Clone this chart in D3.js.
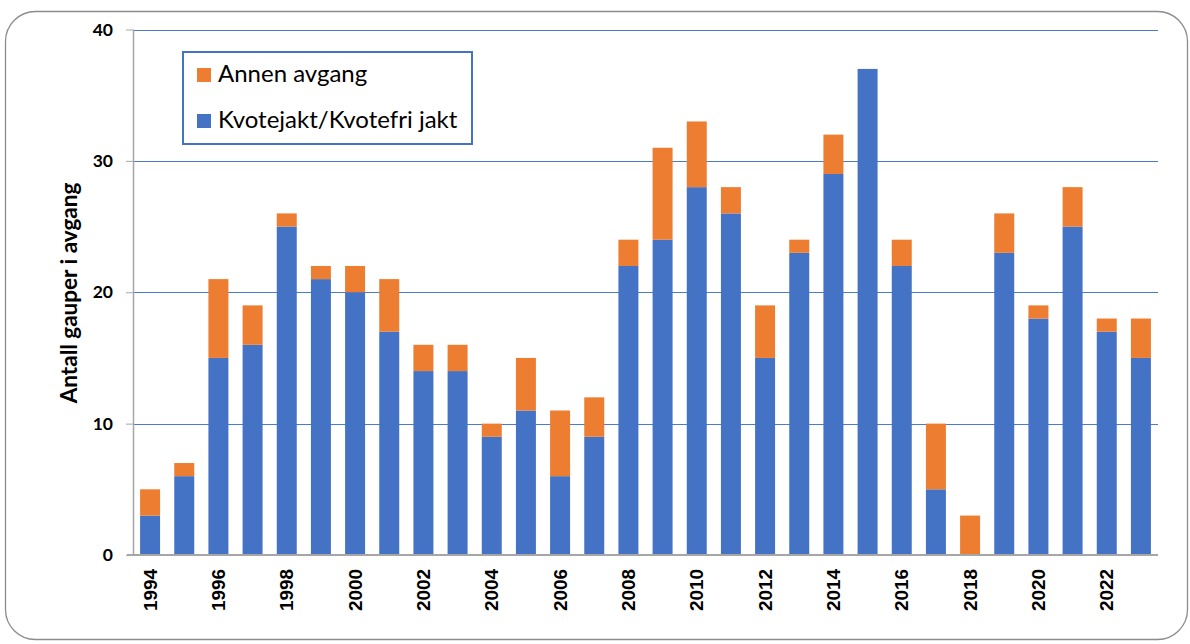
<!DOCTYPE html>
<html>
<head>
<meta charset="utf-8">
<script src="https://cdn.jsdelivr.net/npm/d3@7"></script>
<style>
  html, body { margin: 0; padding: 0; background: #fff; }
  svg { display: block; }
</style>
</head>
<body>
<svg id="chart"></svg>
<script>
// ── DATA ─────────────────────────────────────────────────────────────────
const years = d3.range(1994, 2024).map(String);
const kvotejakt = [3, 6, 15, 16, 25, 21, 20, 17, 14, 14, 9, 11, 6, 9, 22, 24, 28, 26, 15, 23, 29, 37, 22, 5, 0, 23, 18, 25, 17, 15];
const annen     = [2, 1, 6, 3, 1, 1, 2, 4, 2, 2, 1, 4, 5, 3, 2, 7, 5, 2, 4, 1, 3, 0, 2, 5, 3, 3, 1, 3, 1, 3];
const yTicks = [0, 10, 20, 30, 40];
const seriesNames = ["Annen avgang", "Kvotejakt/Kvotefri jakt"];

const BLUE = "#4472C4", ORANGE = "#ED7D31";

const rows = years.map((y, i) => ({ year: y, kvote: kvotejakt[i], annen: annen[i] }));

// ── DIMENSI ──────────────────────────────────────────────────────────────
const W = 1190, H = 644;
const plot = { left: 133, right: 1158, top: 29.5, bottom: 555 };

const svg = d3.select("#chart").attr("width", W).attr("height", H);

// outer rounded frame
svg.append("rect")
  .attr("x", 5.5).attr("y", 11.5)
  .attr("width", 1182).attr("height", 628)
  .attr("rx", 30)
  .attr("fill", "none")
  .attr("stroke", "#8c8c8c")
  .attr("stroke-width", 1.3);

// ── SKALA ─────────────────────────────────────────────────────────────────
const x = d3.scaleBand().domain(years).range([plot.left, plot.right]).paddingInner(0.415).paddingOuter(0.2075);
const y = d3.scaleLinear().domain([0, 40]).range([plot.bottom, plot.top]);

// ── GRID ──────────────────────────────────────────────────────────────────
svg.append("g")
  .selectAll("line")
  .data(yTicks.filter(d => d > 0))
  .join("line")
    .attr("x1", plot.left).attr("x2", plot.right)
    .attr("y1", d => Math.round(y(d)) + 0.5).attr("y2", d => Math.round(y(d)) + 0.5)
    .attr("stroke", "#4a7bd0").attr("stroke-width", 1.2);

// ── BARS ──────────────────────────────────────────────────────────────────
const stack = d3.stack().keys(["kvote", "annen"])(rows);
const colors = { kvote: BLUE, annen: ORANGE };

svg.append("g")
  .selectAll("g")
  .data(stack)
  .join("g")
    .attr("fill", s => colors[s.key])
  .selectAll("rect")
  .data(s => s)
  .join("rect")
    .attr("x", d => x(d.data.year))
    .attr("width", x.bandwidth())
    .attr("y", d => y(d[1]))
    .attr("height", d => y(d[0]) - y(d[1]));

// ── AXIS ──────────────────────────────────────────────────────────────────
svg.append("g")
  .attr("transform", `translate(${plot.left},0)`)
  .call(d3.axisLeft(y).tickValues(yTicks).tickSize(7).tickPadding(13))
  .call(ax => ax.select(".domain").attr("stroke", "#a6a6a6").attr("stroke-width", 1.5).attr("d", `M0.5,${plot.top}V${plot.bottom}`))
  .call(ax => ax.selectAll(".tick line").attr("stroke", "#a6a6a6"))
  .call(ax => ax.selectAll(".tick text")
    .style("font-family", "Lato, 'Open Sans', sans-serif")
    .style("font-size", "17.5px")
    .style("font-weight", "700")
    .style("fill", "#000"));

// baseline
svg.append("line")
  .attr("x1", plot.left - 6).attr("x2", plot.right)
  .attr("y1", plot.bottom).attr("y2", plot.bottom)
  .attr("stroke", "#a6a6a6").attr("stroke-width", 2);

// x labels (every other year)
svg.append("g")
  .selectAll("text")
  .data(years.filter((d, i) => i % 2 === 0))
  .join("text")
    .attr("transform", d => `translate(${x(d) + x.bandwidth() / 2 + 6.5},569) rotate(-90)`)
    .attr("text-anchor", "end")
    .attr("textLength", 42)
    .attr("lengthAdjust", "spacingAndGlyphs")
    .style("font-family", "'Liberation Sans', Arial, sans-serif")
    .style("font-size", "18px")
    .style("font-weight", "700")
    .text(d => d);

// y title
svg.append("text")
  .attr("transform", `translate(77,293) rotate(-90)`)
  .attr("text-anchor", "middle")
  .style("font-family", "Lato, 'Open Sans', sans-serif")
  .style("font-size", "22.5px")
  .style("font-weight", "700")
  .text("Antall gauper i avgang");

// ── LEGEND ────────────────────────────────────────────────────────────────
const legend = svg.append("g");
legend.append("rect")
  .attr("x", 183).attr("y", 52)
  .attr("width", 289).attr("height", 92)
  .attr("fill", "#fff")
  .attr("stroke", BLUE).attr("stroke-width", 2);

const legendItems = [
  { name: seriesNames[0], color: ORANGE, y: 82 },
  { name: seriesNames[1], color: BLUE,   y: 128 }
];
legendItems.forEach(d => {
  legend.append("rect")
    .attr("x", 197).attr("y", d.y - 14)
    .attr("width", 14).attr("height", 14)
    .attr("fill", d.color);
  legend.append("text")
    .attr("x", 218).attr("y", d.y)
    .style("font-family", "Lato, 'Open Sans', sans-serif")
    .style("font-size", "24px")
    .text(d.name);
});
</script>
</body>
</html>
